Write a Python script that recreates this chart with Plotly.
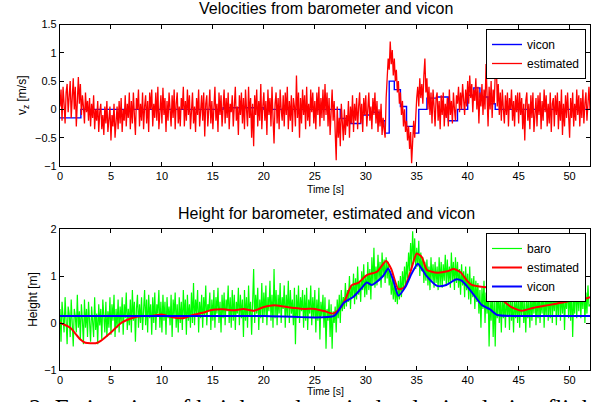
import plotly.graph_objects as go

# ---------------- data ----------------
dt = 0.1
n_samples = 521
t_fast = [round(i * dt, 2) for i in range(n_samples)]

vz_est = [
    0.05, 0.35, -0.2, 0.4, 0.1, -0.25, 0.3, 0.45, -0.05, 0.25,
    0.5, -0.15, 0.2, 0.55, 0.0, 0.4, -0.3, 0.35, 0.57, 0.1,
    0.45, -0.1, 0.25, 0.05, -0.25, 0.3, -0.05, 0.15, -0.2, 0.2,
    -0.3, 0.1, -0.15, 0.25, -0.35, 0.0, -0.2, 0.15, -0.4, -0.05,
    0.1, -0.35, -0.1, -0.45, 0.05, -0.25, 0.15, -0.4, -0.15, 0.05,
    -0.55, -0.1, -0.3, 0.1, -0.5, -0.2, 0.05, -0.35, 0.15, -0.25,
    0.2, -0.4, 0.0, -0.2, 0.25, -0.3, 0.1, -0.15, 0.3, -0.35,
    0.15, -0.25, 0.3, -0.1, -0.45, 0.2, 0.0, 0.35, -0.3, 0.1,
    -0.2, 0.3, -0.35, 0.05, 0.25, -0.25, 0.15, -0.4, 0.3, 0.0,
    0.35, -0.3, 0.1, -0.15, 0.3, -0.2, 0.4, -0.35, 0.05, 0.25,
    -0.25, 0.38, -0.1, 0.2, -0.4, 0.15, -0.2, 0.3, 0.0, -0.3,
    0.25, -0.15, 0.35, -0.35, 0.1, 0.3, -0.25, 0.05, -0.3, 0.2,
    0.0, 0.4, -0.3, 0.15, -0.2, 0.35, -0.1, 0.25, -0.35, 0.1,
    0.3, -0.25, 0.05, -0.4, 0.2, -0.1, 0.35, -0.3, 0.1, 0.25,
    -0.2, 0.3, -0.48, 0.1, 0.25, -0.3, 0.0, 0.35, -0.25, 0.15,
    -0.35, 0.2, 0.4, -0.2, 0.1, -0.4, 0.3, -0.1, 0.25, -0.3,
    0.05, 0.35, -0.25, 0.2, -0.15, 0.3, -0.35, 0.1, -0.05, 0.25,
    -0.3, 0.15, 0.4, -0.2, 0.05, -0.45, 0.25, -0.1, 0.3, -0.25,
    0.2, -0.35, 0.35, 0.0, -0.3, 0.4, -0.15, 0.2, -0.5, 0.1,
    -0.65, 0.25, -0.1, 0.35, -0.3, 0.15, -0.2, 0.45, -0.35, 0.05,
    0.3, -0.2, 0.15, -0.45, 0.35, -0.1, 0.2, -0.3, 0.4, -0.15,
    -0.6, 0.1, 0.3, -0.25, 0.2, -0.35, 0.35, 0.0, -0.2, 0.25,
    -0.3, 0.3, -0.1, 0.4, -0.35, 0.15, -0.2, 0.25, -0.4, 0.2,
    0.05, -0.3, 0.6, -0.15, 0.3, -0.5, 0.2, -0.25, 0.35, -0.1,
    0.25, -0.35, 0.4, -0.2, 0.1, -0.3, 0.35, -0.05, 0.3, -0.25,
    0.15, -0.35, 0.3, -0.1, 0.4, -0.3, 0.2, -0.15, 0.35, -0.2,
    0.45, -0.1, 0.3, -0.3, 0.2, -0.45, 0.1, 0.35, -0.2, 0.15,
    -0.4, -0.9, 0.05, -0.5, -0.15, -0.65, 0.1, -0.3, -0.55, 0.0,
    -0.45, -0.1, -0.3, 0.15, -0.5, 0.05, -0.25, 0.25, -0.4, 0.1,
    -0.2, 0.2, -0.35, 0.05, 0.3, -0.25, 0.1, -0.4, 0.2, -0.1,
    0.25, -0.3, 0.1, 0.3, -0.2, 0.05, -0.35, 0.2, -0.1, 0.3,
    -0.25, 0.15, -0.4, 0.0, -0.3, 0.1, -0.45, -0.15, -0.35, -0.5,
    0.2, 0.6, 0.9, 0.7, 1.2, 0.8, 1.05, 0.6, 0.9, 0.5,
    0.7, 0.3, 0.5, 0.1, 0.3, -0.1, 0.15, -0.3, 0.0, -0.4,
    -0.2, -0.55, -0.3, -0.7, -0.4, -0.95, -0.6, -0.2, -0.5, 0.0,
    0.2, 0.4, 0.05, 0.55, 0.2, 0.45, 0.1, 0.6, 0.9, 0.3,
    0.55, 0.0, 0.4, -0.1, 0.3, -0.25, 0.35, 0.05, -0.3, 0.2,
    0.3, -0.2, 0.15, -0.35, 0.25, -0.1, 0.3, -0.3, 0.1, -0.15,
    0.2, -0.3, 0.35, -0.1, 0.15, -0.25, 0.3, 0.0, -0.2, 0.25,
    0.1, 0.4, -0.05, 0.3, 0.0, 0.45, 0.1, -0.1, 0.35, 0.05,
    0.5, 0.1, 0.6, 0.2, 0.45, -0.05, 0.35, 0.15, 0.55, 0.0,
    0.4, -0.25, 0.3, 0.05, 0.45, -0.1, 0.35, 0.0, 0.8, 0.1,
    -0.3, 0.4, 0.0, 0.5, -0.15, 0.35, 0.1, 0.6, 1.0, 0.05,
    0.45, -0.1, 0.3, -0.2, 0.35, 0.0, -0.25, 0.25, -0.1, 0.3,
    -0.3, 0.2, 0.0, 0.35, -0.2, 0.15, -0.3, 0.25, -0.05, 0.3,
    -0.25, 0.3, -0.1, 0.2, -0.35, 0.1, -0.55, 0.15, 0.3, -0.2,
    0.1, -0.35, 0.25, -0.15, 0.3, -0.4, 0.05, 0.2, -0.3, 0.25,
    -0.1, 0.3, -0.35, 0.15, -0.2, 0.35, -0.05, 0.25, -0.3, 0.1,
    -0.25, 0.3, -0.4, 0.1, 0.2, -0.3, 0.25, -0.1, 0.3, -0.35,
    0.15, -0.2, 0.35, -0.45, 0.1, -0.3, 0.25, -0.15, 0.3, -0.25,
    -0.5, 0.2, -0.15, 0.3, -0.3, 0.1, -0.2, 0.35, -0.1, 0.25,
    -0.3, 0.2, -0.15, 0.35, -0.25, 0.1, 0.3, -0.2, 0.15, 0.4,
    0.0,
]

h_baro = [
    0.3, -0.4, 0.45, 0.0, -0.2, 0.55, 0.1, -0.45, 0.35, 0.2,
    -0.3, 0.5, 0.0, -0.5, 0.3, 0.15, -0.2, 0.6, -0.1, 0.25,
    -0.35, 0.4, 0.05, -0.45, 0.5, -0.1, 0.3, -0.3, 0.45, 0.0,
    -0.4, 0.35, 0.1, -0.3, 0.55, -0.15, 0.2, -0.45, 0.4, -0.05,
    0.3, -0.35, 0.5, 0.0, -0.2, 0.45, -0.3, 0.25, -0.1, 0.55,
    -0.25, 0.4, 0.05, 0.6, -0.3, 0.3, -0.1, 0.5, -0.2, 0.35,
    0.0, 0.55, -0.25, 0.4, 0.1, 0.65, -0.15, 0.3, -0.05, 0.5,
    -0.2, 0.7, 0.05, 0.45, -0.4, 0.3, 0.6, -0.1, 0.4, 0.0,
    0.55, -0.15, 0.35, 0.7, -0.05, 0.5, -0.2, 0.6, 0.1, 0.4,
    -0.25, 0.55, 0.0, 0.65, -0.15, 0.4, 0.2, 0.7, -0.1, 0.45,
    -0.2, 0.6, 0.05, 0.45, -0.25, 0.55, 0.1, 0.35, -0.05, 0.6,
    -0.3, 0.5, 0.15, 0.65, -0.1, 0.4, -0.2, 0.55, 0.0, 0.45,
    -0.15, 0.7, 0.1, 0.5, -0.25, 0.6, 0.05, 0.4, -0.1, 0.65,
    0.0, 0.85, -0.05, 0.5, 0.2, 0.7, -0.2, 0.45, 0.1, 0.6,
    -0.1, 0.55, 0.15, 0.8, -0.05, 0.4, 0.25, 0.65, -0.15, 0.5,
    0.05, 0.7, -0.1, 0.55, 0.2, 0.75, 0.0, 0.45, -0.2, 0.6,
    0.1, 0.65, -0.05, 0.5, 0.25, 0.8, 0.0, 0.55, -0.1, 0.7,
    0.05, 0.6, -0.15, 0.45, 0.2, 0.75, -0.05, 0.6, 0.1, 0.5,
    -0.3, 0.7, 0.05, 0.55, -0.1, 0.8, 0.15, 0.45, -0.25, 0.65,
    1.15, 0.0, 0.6, 0.2, 0.75, -0.15, 0.5, 0.1, 0.85, 0.0,
    0.65, 0.15, 0.8, -0.05, 0.55, 0.25, 0.9, 0.05, 0.6, -0.1,
    1.15, 0.1, 0.7, -0.05, 0.6, 0.2, 0.85, 0.0, 0.55, 0.3,
    0.8, -0.1, 0.6, 0.15, 0.9, 0.0, 0.7, 0.2, 0.5, -0.05,
    0.75, -0.45, 0.6, 0.1, 0.8, 0.0, 0.55, 0.25, 0.7, -0.1,
    0.6, 0.05, 0.75, -0.15, 0.5, 0.2, 0.8, -0.05, 0.55, 0.1,
    0.7, -0.2, 0.5, 0.05, 0.75, -0.35, 0.45, 0.15, 0.6, -0.1,
    0.55, -0.55, 0.3, 0.05, 0.5, -0.3, 0.4, -0.55, 0.25, 0.0,
    0.35, -0.2, 0.5, 0.1, 0.6, 0.0, 0.7, 0.25, 0.55, 0.3,
    0.85, 0.35, 0.7, 0.45, 1.0, 0.3, 0.8, 0.55, 1.05, 0.4,
    0.95, 0.5, 1.2, 0.6, 0.9, 0.45, 1.1, 0.7, 1.25, 0.55,
    1.0, 0.6, 1.3, 0.7, 1.15, 0.5, 1.4, 0.8, 1.6, 0.75,
    1.2, 0.8, 1.45, 0.9, 1.3, 0.75, 1.5, 1.0, 1.35, 0.85,
    1.4, 0.95, 1.3, 0.8, 1.1, 0.6, 0.95, 0.5, 0.85, 0.45,
    0.75, 0.4, 0.9, 0.5, 1.0, 0.55, 1.1, 0.7, 1.2, 0.8,
    1.3, 0.95, 1.5, 1.1, 1.7, 1.2, 1.95, 1.3, 1.8, 1.15,
    1.6, 1.2, 1.75, 1.0, 1.5, 1.1, 1.4, 0.85, 1.3, 0.9,
    1.35, 0.8, 1.2, 0.7, 1.4, 0.9, 1.25, 0.75, 1.3, 0.85,
    1.2, 0.7, 1.4, 0.8, 1.3, 0.75, 1.25, 0.9, 1.45, 0.8,
    1.35, 0.85, 1.2, 0.75, 1.5, 0.9, 1.3, 0.7, 1.4, 0.85,
    1.3, 0.75, 1.15, 0.6, 1.25, 0.8, 1.1, 0.55, 1.2, 0.7,
    1.05, 0.5, 1.2, 0.4, 0.95, 0.55, 1.0, 0.3, 0.9, 0.45,
    0.85, 0.2, 0.7, -0.1, 0.75, 0.3, 0.9, 0.0, 0.65, 0.2,
    0.8, -0.5, 0.5, 0.05, 0.7, -0.3, 0.55, -0.5, 0.6, 0.1,
    0.7, 0.0, 0.55, -0.2, 0.65, 0.1, 0.5, -0.1, 0.6, 0.15,
    0.55, -0.15, 0.7, 0.05, 0.45, -0.2, 0.6, 0.1, 0.5, 0.0,
    0.65, -0.1, 0.55, 0.15, 0.7, 0.0, 0.45, -0.2, 0.6, 0.1,
    0.5, -0.1, 0.7, 0.05, 0.55, 0.2, 0.75, -0.05, 0.6, 0.1,
    0.7, 0.0, 0.55, 0.2, 0.8, -0.1, 0.6, 0.15, 0.75, 0.05,
    0.65, 0.1, 0.85, 0.0, 0.6, 0.25, 0.8, -0.05, 0.7, 0.15,
    0.9, 0.05, 0.65, 0.2, 0.75, -0.15, 0.6, 0.3, 0.85, 0.1,
    0.7, 0.05, 0.8, -0.3, 0.6, 0.2, 0.9, 0.1, 0.75, 0.25,
    0.85, 0.1, 0.7, 0.3, 0.9, 0.0, 0.65, 0.2, 0.8, 0.35,
    0.4,
]

t_vz_vicon = [0, 2.05, 5, 10, 16, 20, 25, 27.5, 28.5, 29.5, 30.5, 31.3, 31.9, 32.3,
              32.8, 33.4, 34.0, 34.7, 35.2, 36.0, 37.0, 38.1, 39.0, 40.0, 40.6, 41.2,
              42.0, 42.7, 44, 48, 52]
vz_vicon = [-0.15, 0.0, 0.0, 0.0, 0.03, 0.0, 0.0, -0.16, -0.25, -0.1, -0.05, -0.2, -0.42, 0.5,
            0.35, 0.05, -0.3, -0.42, 0.0, 0.2, 0.22, -0.2, 0.0, 0.25, 0.38, 0.22,
            0.1, 0.0, 0.0, 0.0, 0.0]

t_h_est = [0, 1, 2, 2.5, 3.5, 4, 5, 6, 7, 8, 9, 10, 11, 12, 13, 14, 15, 16, 17, 18, 19,
           20, 21, 22, 23, 24, 25, 26, 26.8, 27.5, 28, 28.6, 29.3, 30.1, 31.1, 32.0, 32.5,
           33.2, 33.8, 34.4, 35.0, 35.5, 36.0, 37.0, 38.0, 38.6, 39.3, 39.9, 40.4, 41.0,
           41.9, 42.5, 43.2, 44.2, 45.3, 46.4, 47.4, 48.4, 49.4, 50.4, 51.2, 52]
h_est = [0.0, -0.1, -0.35, -0.42, -0.43, -0.38, -0.2, 0.0, 0.1, 0.15, 0.15, 0.18, 0.12,
         0.1, 0.17, 0.22, 0.28, 0.29, 0.27, 0.3, 0.26, 0.34, 0.38, 0.35, 0.32, 0.3, 0.3,
         0.25, 0.2, 0.32, 0.5, 0.8, 0.86, 1.02, 1.09, 1.32, 1.15, 0.72, 0.76, 1.1, 1.48,
         1.4, 1.13, 1.07, 1.1, 1.15, 1.08, 0.91, 0.81, 0.78, 0.76, 0.69, 0.53, 0.35, 0.26,
         0.32, 0.36, 0.4, 0.44, 0.49, 0.5, 0.55]

t_h_vicon = [0, 10, 20, 26.9, 27.8, 28.8, 29.5, 30.1, 30.6, 31.1, 31.7, 32.2, 32.7, 33.2,
             33.9, 34.5, 35.1, 35.5, 36.0, 37.0, 37.9, 38.9, 39.4, 39.9, 40.6, 41.4, 42.2,
             42.9, 45, 50, 52]
h_vicon = [0.15, 0.15, 0.15, 0.15, 0.42, 0.56, 0.72, 0.86, 0.81, 0.88, 1.0, 1.16, 0.9, 0.58,
           0.77, 1.05, 1.26, 1.15, 0.99, 0.79, 0.81, 0.93, 0.9, 0.79, 0.6, 0.38, 0.29,
           0.17, 0.15, 0.15, 0.15]

x_ticks = [0, 5, 10, 15, 20, 25, 30, 35, 40, 45, 50]
vz_ticks = [-1, -0.5, 0, 0.5, 1, 1.5]
h_ticks = [-1, 0, 1, 2]

# ---------------- figure ----------------
W, H = 600, 402
FONT = "Liberation Sans, Arial, sans-serif"


def fx(px):
    return px / W


def fy(py):
    return 1 - py / H


fig = go.Figure()

fig.add_trace(go.Scatter(x=t_vz_vicon, y=vz_vicon, mode="lines", name="vicon",
                         line=dict(color="#0000ff", width=1.4, shape="hv"),
                         xaxis="x", yaxis="y", legend="legend"))
fig.add_trace(go.Scatter(x=t_fast, y=vz_est, mode="lines", name="estimated",
                         line=dict(color="#ff0000", width=1.3),
                         xaxis="x", yaxis="y", legend="legend"))

fig.add_trace(go.Scatter(x=t_fast, y=h_baro, mode="lines", name="baro",
                         line=dict(color="#00ff00", width=1.2),
                         xaxis="x2", yaxis="y2", legend="legend2"))
fig.add_trace(go.Scatter(x=t_h_est, y=h_est, mode="lines", name="estimated",
                         line=dict(color="#ff0000", width=2.0, shape="spline", smoothing=0.6),
                         xaxis="x2", yaxis="y2", legend="legend2"))
fig.add_trace(go.Scatter(x=t_h_vicon, y=h_vicon, mode="lines", name="vicon",
                         line=dict(color="#0000ff", width=2.0, shape="spline", smoothing=0.6),
                         xaxis="x2", yaxis="y2", legend="legend2"))

axis_common = dict(showline=True, linecolor="#000000", linewidth=1.2, mirror="ticks",
                   ticks="inside", ticklen=4, tickcolor="#000000", showgrid=False,
                   zeroline=False, automargin=False,
                   tickfont=dict(family=FONT, size=11, color="#000000"))

fig.update_layout(
    width=W, height=H,
    margin=dict(l=0, r=0, t=0, b=0, pad=0, autoexpand=False),
    paper_bgcolor="white", plot_bgcolor="white",
    font=dict(family=FONT, color="#000000"),
    xaxis=dict(domain=[fx(60), fx(590)], range=[0, 52], tickvals=x_ticks,
               anchor="y", **axis_common),
    yaxis=dict(domain=[fy(166), fy(24.5)], range=[-1, 1.5], tickvals=vz_ticks,
               anchor="x", title=dict(text="v<sub>z</sub> [m/s]", standoff=5,
                                      font=dict(size=12)),
               **axis_common),
    xaxis2=dict(domain=[fx(60), fx(590)], range=[0, 52], tickvals=x_ticks,
                anchor="y2", **axis_common),
    yaxis2=dict(domain=[fy(370), fy(229)], range=[-1, 2], tickvals=h_ticks,
                anchor="x2", title=dict(text="Height [m]", standoff=3,
                                        font=dict(size=12)),
                **axis_common),
    legend=dict(x=fx(586), y=fy(29), xanchor="right", yanchor="top",
                bgcolor="white", bordercolor="#000000", borderwidth=1,
                font=dict(family=FONT, size=12), tracegroupgap=0, itemwidth=30),
    legend2=dict(x=fx(586), y=fy(233), xanchor="right", yanchor="top",
                 bgcolor="white", bordercolor="#000000", borderwidth=1,
                 font=dict(family=FONT, size=12), tracegroupgap=0, itemwidth=30),
    showlegend=True,
)

annotations = [
    dict(text="Velocities from barometer and vicon", x=fx(326), y=fy(9),
         font=dict(size=16)),
    dict(text="Height for barometer, estimated and vicon", x=fx(326), y=fy(213),
         font=dict(size=16)),
    dict(text="Time [s]", x=fx(325), y=fy(189), font=dict(size=10.5)),
    dict(text="Time [s]", x=fx(325), y=fy(391), font=dict(size=10.5)),
]
for a in annotations:
    a.update(xref="paper", yref="paper", showarrow=False,
             xanchor="center", yanchor="middle")
    fig.add_annotation(**a)

fig.add_annotation(text="2:&nbsp;Estimation of height and vertical velocity during flight",
                   xref="paper", yref="paper", x=fx(27), y=fy(393),
                   xanchor="left", yanchor="top", showarrow=False,
                   font=dict(family="Liberation Serif, Times New Roman, serif", size=25,
                             color="#000000"))

fig.write_html("out.html", config={"displayModeBar": False},
               post_script="document.body.style.margin='0';")
